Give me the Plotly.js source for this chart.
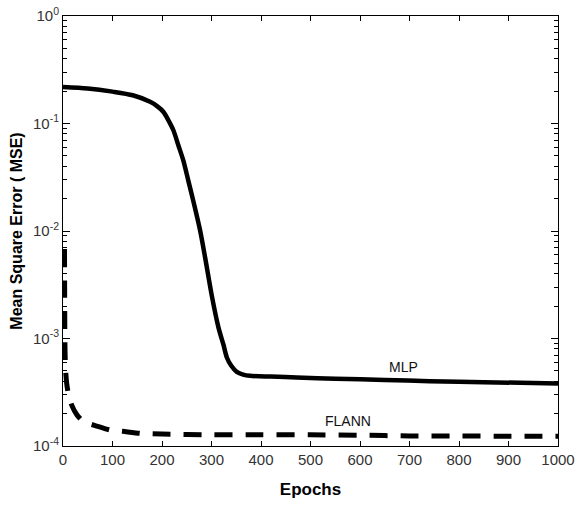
<!DOCTYPE html>
<html>
<head>
<meta charset="utf-8">
<script src="https://cdn.plot.ly/plotly-3.0.1.min.js"></script>
<style>
html,body{margin:0;padding:0;background:#fff;}
#chart{width:586px;height:515px;}
</style>
</head>
<body>
<div id="chart"></div>
<script>
// ---- data ----
const mlpEpochs = [0, 50, 100, 141, 176, 190, 203, 213, 223, 233, 243, 253, 263, 277, 287, 300, 314, 324, 331, 340, 351, 364, 378, 420, 472, 550, 650, 741, 850, 1000];
const mlpMSE    = [0.219, 0.212, 0.198, 0.183, 0.159, 0.145, 0.128, 0.107, 0.0865, 0.0627, 0.0454, 0.0296, 0.0192, 0.0101, 0.0057, 0.00259, 0.00127, 0.00088, 0.000666, 0.000557, 0.000490, 0.000462, 0.000450, 0.000442, 0.000434, 0.000423, 0.000412, 0.000400, 0.000392, 0.000382];

const flannEpochs = [3, 3.3, 3.6, 4, 5, 7.5, 11, 17.6, 28, 41, 65, 95, 121, 156, 200, 300, 400, 500, 600, 700, 800, 900, 1000];
const flannMSE    = [0.0068, 0.0030, 0.0013, 0.00080, 0.00052, 0.00038, 0.00030, 0.000240, 0.000195, 0.000168, 0.000155, 0.000141, 0.000137, 0.000131, 0.000129, 0.000127, 0.000127, 0.000127, 0.000126, 0.000124, 0.000124, 0.000123, 0.000123];

const xTickVals = [0, 100, 200, 300, 400, 500, 600, 700, 800, 900, 1000];
const yTickVals = [1e-4, 1e-3, 1e-2, 1e-1, 1];
const yTickText = ['10<sup>-4</sup>', '10<sup>-3</sup>', '10<sup>-2</sup>', '10<sup>-1</sup>', '10<sup>0</sup>'];

const seriesLabels = ['MLP', 'FLANN'];

// minor tick positions (2..9 within each decade)
const yMinor = [];
for (let e = -4; e < 0; e++) {
  for (let m = 2; m <= 9; m++) yMinor.push(m * Math.pow(10, e));
}

const traces = [
  {
    x: mlpEpochs, y: mlpMSE, type: 'scatter', mode: 'lines', name: seriesLabels[0],
    line: {color: '#000', width: 4.5, shape: 'spline', smoothing: 0.8}
  },
  {
    x: flannEpochs, y: flannMSE, type: 'scatter', mode: 'lines', name: seriesLabels[1],
    line: {color: '#000', width: 5, dash: '18px,13px', shape: 'spline', smoothing: 0.4}
  }
];

const fontFam = '"Liberation Sans", Arial, Helvetica, sans-serif';

const layout = {
  width: 586, height: 515,
  margin: {l: 63, r: 28, t: 16, b: 69},
  paper_bgcolor: '#fff', plot_bgcolor: '#fff',
  showlegend: false,
  font: {family: fontFam, color: '#000'},
  xaxis: {
    range: [0, 1000],
    tickvals: xTickVals,
    ticks: 'inside', ticklen: 5, tickwidth: 1, tickcolor: '#000',
    showline: true, linecolor: '#000', linewidth: 1, mirror: 'ticks',
    showgrid: false, zeroline: false,
    tickfont: {size: 15, color: '#333', family: fontFam},
    title: {text: '<b>Epochs</b>', font: {size: 17, color: '#000', family: fontFam}, standoff: 16}
  },
  yaxis: {
    type: 'log',
    range: [-4, 0],
    tickvals: yTickVals, ticktext: yTickText,
    ticks: 'inside', ticklen: 7, tickwidth: 1, tickcolor: '#000',
    minor: {tickvals: yMinor, ticks: 'inside', ticklen: 4, tickcolor: '#000', tickwidth: 1, showgrid: false},
    showline: true, linecolor: '#000', linewidth: 1, mirror: 'ticks',
    showgrid: false, zeroline: false,
    tickfont: {size: 15, color: '#333', family: fontFam},
    title: {text: '<b>Mean Square Error ( MSE)</b>', font: {size: 16, color: '#000', family: fontFam}, standoff: 6}
  },
  annotations: [
    {x: 687, y: -3.263, xref: 'x', yref: 'y', text: seriesLabels[0], showarrow: false,
     font: {size: 14, color: '#111', family: fontFam}},
    {x: 576, y: -3.767, xref: 'x', yref: 'y', text: seriesLabels[1], showarrow: false,
     font: {size: 14, color: '#111', family: fontFam}}
  ]
};

Plotly.newPlot('chart', traces, layout, {displayModeBar: false, staticPlot: true});
</script>
</body>
</html>
